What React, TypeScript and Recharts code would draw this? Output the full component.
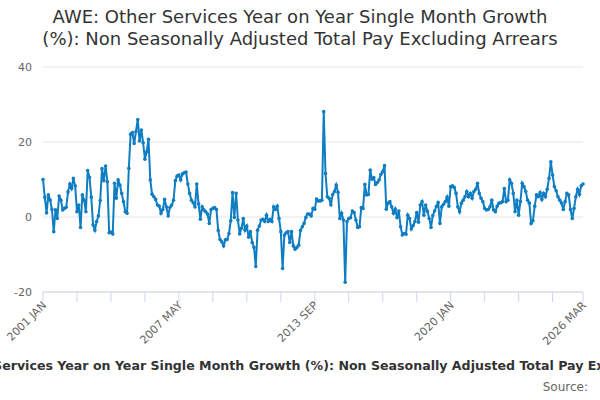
import { CartesianGrid, Line, LineChart, XAxis, YAxis } from "recharts";

// Monthly YoY growth (%), Jan 2001 .. Mar 2026.
const growth2001to2007 = [
	10, 5.3, 1.1, 5.9, 4.5, 2, -3.9, 1.9, -0.4, 5.6,
	4.5, 1.9, 2.3, 2.6, 6.7, 8.8, 7.6, 10.3, 8.3, 1.4,
	3.2, -2.8, 5.9, 4.5, 1.4, 12.4, 10.6, 5.3, -2.1, -3.5,
	-1.2, 0.3, 4.4, 12.9, 9.7, 13.6, 9.4, -4.2, -4, -4.5,
	9, 5, 9.9, 8.5, 6.3, 4.1, 1.4, 1, 13, 22.1,
	22.5, 19.6, 22.8, 26, 20.3, 23.2, 19.8, 15.4, 17.4, 20.7,
	9.9, 6.1, 5.4, 4.7, 3.2, 2.9, 1, 2, 4.7, 2.7,
	0.3, 2.6, 3.2, 4.5, 9.7,
];
const growth2007to2013 = [
	10.9, 11.2, 9.9, 11.5, 11.8, 12, 8.8, 6.3, 4.5, 3.8,
	2.7, 8.8, 3.5, -0.6, 2.7, 1.9, 1.4, 0.8, -1.7, 2,
	2.3, 2.5, 2, -3.6, -6, -6.6, -7.7, -6.1, -6, -4.4,
	-1, 6.5, -0.1, 6.3, -0.8, -4.5, -3, -0.4, -3.5, -2.4,
	-5.4, -3.9, -6.8, -8.1, -13.2, -3.5, -2.4, -0.8, -0.6, -1.2,
	0.5, -1.2, -0.6, -1.2, 2.7, 2, 2.9, -0.4, -3.9, -13.7,
	-4.8, -4.2, -3.9, -6.8, -3.9, -7.7, -8.6, -8.1, -7.5, -3.6,
	-2.6, -1.7, -0.1, 0.8, 0.8, 0.3, 2.3,
];
const growth2013to2020 = [
	2.1, 4.8, 4.3, 4.3, 4.5, 28.1, 11.6, 5.4, 5.0, 3.2,
	6, 6.8, 8.5, 6.6, -0.4, 1, -0.8, -17.4, -1.2, -0.4,
	-0.2, 1.6, 1.2, -0.8, -2.8, -2.6, 2.5, 2.3, 8.7, 5.9,
	6, 12.5, 10.1, 10.5, 8.7, 9.2, 9.9, 11.4, 12.1, 13.7,
	2.1, 3.7, 4.1, 2.7, 1, 2.1, -0.2, 1.6, -2.6, -4.8,
	-4.4, -4.6, 0.5, -0.4, -3.2, -2.3, -1.2, 1.2, -1.4, 3.2,
	4.1, 0.5, 3.2, 1.5, -0.4, -2.8, 0.4, 1.6, 2.8, 3.9,
	-1.7, 2.7, 3.4, 4.1, 5.3, 2.9,
];
const growth2020to2026 = [
	8.1, 8.3, 7.9, 6.3, 2.7, 1.4, 3.7, 4.5, 5.4, 6.8,
	5.4, 6.3, 5, 6.8, 7.4, 9, 6.3, 5, 4.1, 2.3,
	1.9, 2, 2.7, 4.5, 1.9, 1.4, 2.9, 3.7, 3.8, 4.1,
	7.6, 4.1, 4.5, 9.9, 9, 6.3, 1.4, 4.5, 0.5, 4.1,
	9, 8.1, 6.8, 4.5, 3.7, -1.7, -1, 2.9, 5.9, 5.4,
	6.5, 4.7, 6.3, 5.4, 7.4, 10.3, 14.7, 11.2, 8.1, 7,
	5.4, 4.5, 3.7, 2, 4.1, 6.3, 5.9, 2, -0.4, 2.3,
	5.4, 7.4, 6, 8.3, 8.8,
];

const growth = [...growth2001to2007, ...growth2007to2013, ...growth2013to2020, ...growth2020to2026];

const MONTH_NAMES = ["JAN", "FEB", "MAR", "APR", "MAY", "JUN", "JUL", "AUG", "SEP", "OCT", "NOV", "DEC"];
const FIRST_YEAR = 2001;
const months = growth.map((_, i) => `${FIRST_YEAR + Math.floor(i / 12)} ${MONTH_NAMES[i % 12]}`);

// tick marks every 19 months plus the last month; only some carry a label
const TICK_STEP = 19;
const tickMonths = [...months.filter((_, i) => i % TICK_STEP === 0), months[months.length - 1]];
const labelledMonths = ["2001 JAN", "2007 MAY", "2013 SEP", "2020 JAN", "2026 MAR"];
const yTicks = [-20, 0, 20, 40];

const TITLE_1 = "AWE: Other Services Year on Year Single Month Growth";
const TITLE_2 = "(%): Non Seasonally Adjusted Total Pay Excluding Arrears";
const SERIES_NAME =
	"AWE: Other Services Year on Year Single Month Growth (%): Non Seasonally Adjusted Total Pay Excluding Arrears";

const data = months.map((m, i) => ({ month: m, value: growth[i] }));

const BLUE = "#0f7dc2";
const FONT = "'DejaVu Sans', sans-serif";

function MonthTick({ x, y, payload }: any) {
	if (!labelledMonths.includes(payload.value)) return <g />;
	return (
		<text
			x={x + 4}
			y={y + 2}
			transform={`rotate(-45, ${x + 4}, ${y + 2})`}
			textAnchor="end"
			fontSize={11}
			fill="#666"
			fontFamily={FONT}
		>
			{payload.value}
		</text>
	);
}

export default function App() {
	return (
		<div
			style={{
				position: "absolute",
				left: 0,
				top: 0,
				width: 600,
				height: 400,
				overflow: "hidden",
				background: "#fff",
				fontFamily: FONT,
			}}
		>
			<div
				style={{
					position: "absolute",
					top: 6,
					left: 0,
					width: 600,
					textAlign: "center",
					fontSize: 18,
					lineHeight: "22px",
					color: "#333",
				}}
			>
				{TITLE_1}
				<br />
				{TITLE_2}
			</div>
			<LineChart width={600} height={400} data={data} margin={{ top: 67, right: 17, bottom: 78, left: 0 }}>
				<CartesianGrid vertical={false} stroke="#e6e6e6" />
				<XAxis
					dataKey="month"
					scale="point"
					height={30}
					ticks={tickMonths}
					interval={0}
					tick={<MonthTick />}
					tickSize={10}
					stroke="#ccd6eb"
					axisLine={{ stroke: "#ccd6eb" }}
					tickLine={{ stroke: "#ccd6eb" }}
				/>
				<YAxis
					width={43}
					domain={[-20, 40]}
					ticks={yTicks}
					axisLine={false}
					tickLine={false}
					tickMargin={5}
					tick={{ fontSize: 11, fill: "#666", fontFamily: FONT }}
				/>
				<Line
					dataKey="value"
					stroke={BLUE}
					strokeWidth={2}
					dot={{ r: 1.8, fill: BLUE, stroke: BLUE, strokeWidth: 0 }}
					isAnimationActive={false}
				/>
			</LineChart>
			<div
				style={{
					position: "absolute",
					top: 358,
					left: 0,
					width: 600,
					display: "flex",
					justifyContent: "center",
					whiteSpace: "nowrap",
				}}
			>
				<span style={{ fontSize: 12.6, fontWeight: "bold", color: "#333", paddingLeft: 21, flexShrink: 0 }}>
					{SERIES_NAME}
				</span>
			</div>
			<div style={{ position: "absolute", top: 380, right: 12, fontSize: 12, color: "#666" }}>Source:</div>
		</div>
	);
}
